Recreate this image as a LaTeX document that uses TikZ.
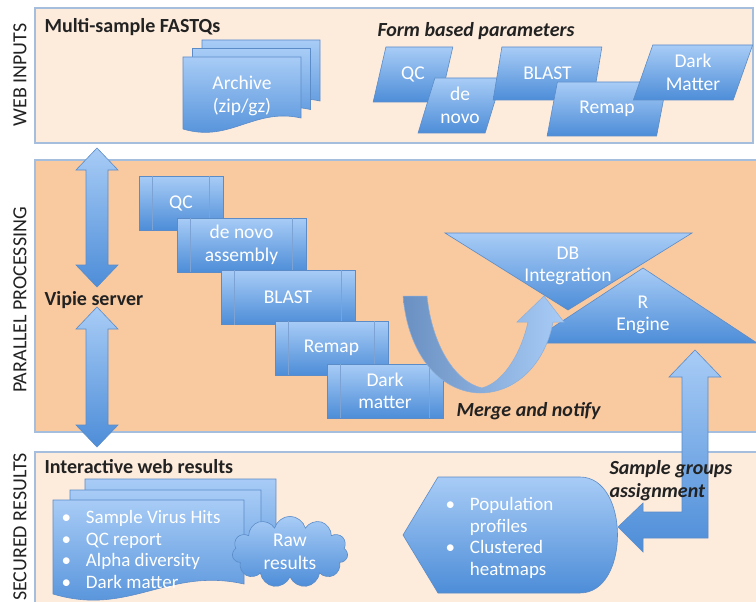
\documentclass[tikz,border=0pt]{standalone}
\usepackage{fontspec}
\setmainfont{Carlito}
\usetikzlibrary{shapes.geometric,shapes.symbols}

\definecolor{bluetop}{HTML}{A8CCF6}
\definecolor{bluebot}{HTML}{4D8DD8}
\definecolor{blueline}{HTML}{5B8CC8}
\definecolor{arrowdark}{HTML}{6A90C2}
\definecolor{peachlight}{HTML}{FDEBDC}
\definecolor{peachdark}{HTML}{F9C9A0}
\definecolor{panelline}{HTML}{A5BEDD}
\definecolor{labeltext}{HTML}{222222}

\tikzset{
  panel/.style={draw=panelline, line width=1.5pt},
  blueshape/.style={draw=blueline, line width=0.6pt, top color=bluetop, bottom color=bluebot},
  boxtext/.style={text=white, font=\fontsize{19.5}{22.5}\selectfont, align=center},
  listtext/.style={text=white, font=\fontsize{19}{21.5}\selectfont, anchor=north west, align=left},
  sidelabel/.style={rotate=90, text=labeltext, font=\fontsize{20}{24}\selectfont},
  heading/.style={anchor=west, text=labeltext, font=\fontsize{20}{23}\selectfont\bfseries},
  note/.style={anchor=west, text=labeltext, font=\fontsize{20}{23}\selectfont\bfseries\itshape, align=left},
  procbox/.style={blueshape, boxtext, rectangle, inner sep=0pt},
  formbox/.style={blueshape, boxtext, trapezium, trapezium left angle=70, trapezium right angle=110,
    trapezium stretches=true, inner sep=0pt},
}

% document shape: x0, y0, width, height (right side), extra drop on the left
\newcommand{\docshape}[5]{%
  \path[blueshape] (#1,#2) -- ({#1+#3},#2) -- ({#1+#3},{#2+#4})
    .. controls ({#1+0.6*#3},{#2+#4-0.09*#3}) and ({#1+0.4*#3},{#2+#4+#5+0.12*#3}) ..
    (#1,{#2+#4+#5}) -- cycle;}

\begin{document}
\begin{tikzpicture}[x=1pt, y=-1pt]
  \useasboundingbox (0,0) rectangle (756,602);
  \fill[white] (0,0) rectangle (756,602);

  % panels
  \draw[panel, fill=peachlight] (35,8) rectangle (753,143);
  \draw[panel, fill=peachdark] (35,160) rectangle (760,432);
  \draw[panel, fill=peachlight] (35,452) rectangle (760,612);

  \node[sidelabel] (lweb) at (20,75) {WEB INPUTS};
  \node[sidelabel] (lpar) at (20,300) {PARALLEL PROCESSING};
  \node[sidelabel] (lsec) at (20,527) {SECURED RESULTS};

  % web inputs
  \node[heading] (fastq) at (41,27) {Multi-sample FASTQs};
  \foreach \dx/\dy in {19/-17, 9.5/-8.5, 0/0}
    {
      \docshape{183+\dx}{57+\dy}{118}{61}{11}
    }
  \node[boxtext] (archive) at (242,96) {Archive\\(zip/gz)};

  \node[note] (formhead) at (374,31) {Form based parameters};
  \node[formbox, minimum width=80pt, minimum height=55pt] (fqc) at (413,74.5) {QC};
  \node[formbox, minimum width=84pt, minimum height=55pt] (fdenovo) at (460,105.5) {de\\novo};
  \node[formbox, minimum width=109pt, minimum height=53pt] (fblast) at (547.5,73.5) {BLAST};
  \node[formbox, minimum width=120pt, minimum height=54pt] (fremap) at (607,109) {Remap};
  \node[formbox, minimum width=120pt, minimum height=55pt] (fdark) at (693,72.5) {Dark\\Matter};

  % server arrows
  \foreach \yt/\yb in {148/287, 307/447}
    {
      \path[blueshape] (97,\yt) -- (118,\yt+22) -- (108,\yt+22) -- (108,\yb-22) -- (118,\yb-22)
        -- (97,\yb) -- (76,\yb-22) -- (86,\yb-22) -- (86,\yt+22) -- (76,\yt+22) -- cycle;
    }
  \node[heading] (vipie) at (41,300) {Vipie server};

  % processing steps
  \foreach \name/\cx/\cy/\w/\txt in {qc/181/203/84/QC, denovo/241.5/245/129/{de novo\\assembly},
      blast/288/297.5/134/BLAST, remap/331.5/348/113/Remap, dark/385/391/116/{Dark\\matter}}
    {
      \node[procbox, minimum width=\w pt, minimum height=54pt] (\name) at (\cx,\cy) {\txt};
      \draw[blueline!80, line width=0.5pt] ([xshift=14pt]\name.north west) -- ([xshift=14pt]\name.south west);
      \draw[blueline!80, line width=0.5pt] ([xshift=-14pt]\name.north east) -- ([xshift=-14pt]\name.south east);
    }

  % R engine and DB integration
  \path[blueshape] (643,268) -- (757,343) -- (529,343) -- cycle;
  \node[boxtext] (rengine) at (643,315) {R\\Engine};
  \path[blueshape] (445,233) -- (692,233) -- (568,310) -- cycle;
  \node[boxtext] (dbint) at (568,266) {DB\\Integration};

  % merge arrow
  \path[draw=blueline!70, line width=0.5pt, left color=arrowdark, right color=bluetop]
    (403,296) -- (427,296) .. controls (432,345) and (455,382) .. (482,388)
    .. controls (505,382) and (522,350) .. (528,322) -- (517,322) -- (544,296) -- (564,322)
    -- (553,322) .. controls (545,365) and (515,393) .. (480,393)
    .. controls (440,392) and (408,355) .. (403,296) -- cycle;
  \node[note] (merge) at (453,411) {Merge and notify};

  % secured results
  \node[heading] (interactive) at (41,467) {Interactive web results};
  \foreach \dx/\dy in {32/-21, 17/-10, 0/0}
    {
      \docshape{53+\dx}{500+\dy}{191}{84}{10}
    }
  \node[listtext] (hits) at (58,505)
    {\begin{tabular}{@{}l@{\hspace{15pt}}l@{}}
      \textbullet & Sample Virus Hits\\
      \textbullet & QC report\\
      \textbullet & Alpha diversity\\
      \textbullet & Dark matter
    \end{tabular}};
  \node[cloud, cloud puffs=11, aspect=2.2, minimum width=110pt, minimum height=50pt,
    blueshape, boxtext, inner sep=0pt] (raw) at (290,552) {Raw\\results};

  % group assignment arrow
  \path[blueshape] (695,350) -- (721,377) -- (708,377) -- (708,538) -- (643,538) -- (643,552)
    -- (618,527) -- (643,503) -- (643,512) -- (682,512) -- (682,377) -- (669,377) -- cycle;
  \node[note] (groups) at (606,481) {Sample groups\\assignment};

  % population display
  \path[blueshape] (403,535) -- (438,477) -- (580,477) .. controls (630,477) and (630,593) .. (580,593)
    -- (438,593) -- cycle;
  \node[listtext] (pop) at (442,492)
    {\begin{tabular}{@{}l@{\hspace{15pt}}l@{}}
      \textbullet & Population\\
                  & profiles\\
      \textbullet & Clustered\\
                  & heatmaps
    \end{tabular}};
\end{tikzpicture}
\end{document}
